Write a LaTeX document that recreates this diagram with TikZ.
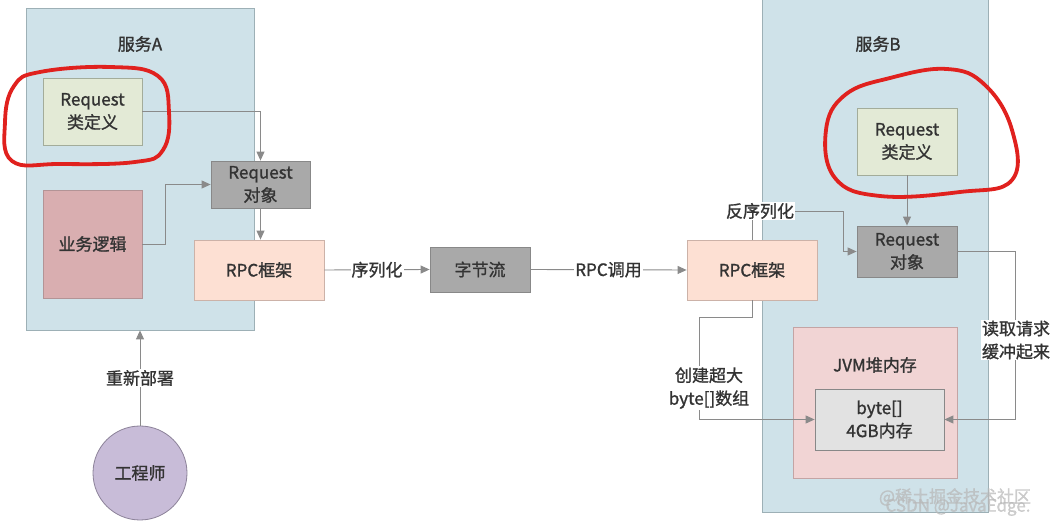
\documentclass[tikz,border=0pt]{standalone}
\usepackage{fontspec}
\setmainfont{Noto Sans CJK SC}[FakeBold=1.2]
\usetikzlibrary{positioning,arrows.meta,calc}
\definecolor{txt}{HTML}{333333}
\definecolor{svcblue}{HTML}{CFE2E9}
\definecolor{svcline}{HTML}{9DB0B6}
\definecolor{defgreen}{HTML}{E3EAD6}
\definecolor{defline}{HTML}{A3AC9A}
\definecolor{objgray}{HTML}{A9A9A9}
\definecolor{objline}{HTML}{888888}
\definecolor{bizred}{HTML}{D9AEB0}
\definecolor{bizline}{HTML}{B39496}
\definecolor{rpcpeach}{HTML}{FDE0D3}
\definecolor{rpcline}{HTML}{CCB2A8}
\definecolor{jvmpink}{HTML}{F1D4D4}
\definecolor{jvmline}{HTML}{C4A4A4}
\definecolor{arrgray}{HTML}{E2E2E2}
\definecolor{englav}{HTML}{C8BCD8}
\definecolor{engline}{HTML}{8C8299}
\definecolor{linegray}{HTML}{8A8A8A}
\definecolor{ringred}{HTML}{E0211E}
\begin{document}
\begin{tikzpicture}[x=1pt,y=-1pt,
    font=\fontsize{17}{23}\selectfont,
    box node/.style={rectangle,draw=#1,inner sep=0pt,align=center,text=txt,line width=0.8pt},
    conn/.style={draw=linegray,line width=0.9pt,-{Triangle[length=9pt,width=8pt]}},
    tag node/.style={fill=white,inner sep=1pt,align=center,text=txt},
    red ring/.style={draw=ringred,line width=3.8pt,line cap=round,line join=round}
   ]
   \useasboundingbox (0,0) rectangle (1053,526);
   % service A
   \node[box node=svcline,fill=svcblue,minimum width=228pt,minimum height=322pt] (svcA) at (140,169) {};
   \node[text=txt] (titleA) at (140,44) {服务A};
   \node[box node=defline,fill=defgreen,minimum width=99pt,minimum height=67pt] (reqdefA) at (92.5,111.5) {Request\\类定义};
   \node[box node=objline,fill=objgray,minimum width=99pt,minimum height=47pt] (reqobjA) at (260.5,184.5) {Request\\对象};
   \node[box node=bizline,fill=bizred,minimum width=99pt,minimum height=108pt] (bizA) at (92.5,244) {业务逻辑};
   \node[box node=rpcline,fill=rpcpeach,minimum width=130pt,minimum height=60pt] (rpcA) at (259,270) {RPC框架};
   % middle
   \node[box node=objline,fill=objgray,minimum width=100pt,minimum height=45pt] (bytes) at (480,269.5) {字节流};
   % service B
   \node[box node=svcline,fill=svcblue,minimum width=226pt,minimum height=517pt] (svcB) at (875,253.5) {};
   \node[text=txt] (titleB) at (878,44) {服务B};
   \node[box node=rpcline,fill=rpcpeach,minimum width=130pt,minimum height=60pt] (rpcB) at (752,270) {RPC框架};
   \node[box node=defline,fill=defgreen,minimum width=100pt,minimum height=67pt] (reqdefB) at (907,141.5) {Request\\类定义};
   \node[box node=objline,fill=objgray,minimum width=100pt,minimum height=51pt] (reqobjB) at (907,251.5) {Request\\对象};
   \node[box node=jvmline,fill=jvmpink,minimum width=164pt,minimum height=151pt] (jvm) at (875,402.5) {};
   \node[text=txt] (jvmtitle) at (875,365) {JVM堆内存};
   \node[box node=objline,fill=arrgray,minimum width=129pt,minimum height=61pt] (bytearr) at (879.5,419.5) {byte[]\\4GB内存};
   % engineer
   \node[circle,draw=engline,fill=englav,line width=0.8pt,minimum size=94pt,inner sep=0pt,text=txt] (eng) at (140,473) {工程师};
   % connectors A side
   \draw[conn] (reqdefA.east) -| (reqobjA.north);
   \draw[conn] (bizA.east) -- ++(23,0) |- (reqobjA.west);
   \draw[conn] (reqobjA.south) -- (reqobjA.south |- rpcA.north);
   \draw[conn] (rpcA.east) -- node[tag node] (ser) {序列化} (bytes.west);
   \draw[conn] (bytes.east) -- node[tag node] (rpccall) {RPC调用} (rpcB.west);
   \draw[conn] (eng.north) -- node[tag node] (redeploy) {重新部署} (svcA.south);
   % connectors B side
   \draw[conn] (reqdefB.south) -- (reqobjB.north);
   \coordinate (bendD) at (843,211);
   \draw[conn] (rpcB.north) |- (bendD) |- (reqobjB.west);
   \node[tag node] (deser) at (760,211) {反序列化};
   \draw[conn] (reqobjB.east) -- ++(58,0) |- (bytearr.east);
   \node[tag node] (readbuf) at (1016,340) {读取请求\\缓冲起来};
   \coordinate (bendC) at (699,317);
   \draw[conn] (rpcB.south) |- (bendC) |- (bytearr.west);
   \node[tag node] (create) at (709,388) {创建超大\\byte[]数组};
   % red marks
   \draw[red ring] plot[smooth cycle,tension=0.7] coordinates {(40,72) (110,67) (158,76) (169,112) (163,150) (135,162) (60,164) (12,161) (5,122) (14,86)};
   \draw[red ring] plot[smooth cycle,tension=0.7] coordinates {(947,69) (985,85) (1012,130) (1012,180) (960,192) (880,196) (835,178) (826,130) (845,95) (890,78)};
   % watermark
   \node[text=gray!55,opacity=0.7] (wm1) at (955,497) {@稀土掘金技术社区};
   \node[text=gray!55,opacity=0.7] (wm2) at (958,507) {CSDN @JavaEdge.};
\end{tikzpicture}
\end{document}
